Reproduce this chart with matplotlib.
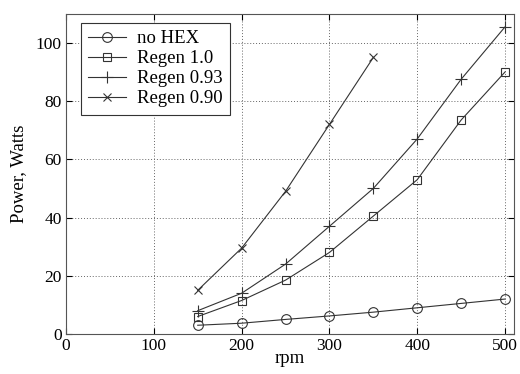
import numpy as np
import matplotlib
matplotlib.use('Agg')
import matplotlib.pyplot as plt

plt.rcParams['font.family'] = ['Liberation Serif', 'DejaVu Serif']

rpm = [150, 200, 250, 300, 350, 400, 450, 500]
rpm_090 = [150, 200, 250, 300, 350]
no_hex = [3.0, 3.7, 5.0, 6.2, 7.5, 9.0, 10.5, 12.0]
regen_10 = [6.0, 11.5, 18.5, 28.0, 40.5, 53.0, 73.5, 90.0]
regen_093 = [8.0, 14.0, 24.0, 37.0, 50.0, 67.0, 87.5, 105.5]
regen_090 = [15.0, 29.5, 49.0, 72.0, 95.0]

fig = plt.figure(figsize=(5.2, 3.74), dpi=100)
ax = fig.add_axes([0.127, 0.107, 0.861, 0.856])

lc = '#333333'
ax.plot(rpm, no_hex, color=lc, lw=0.8, marker='o', ms=7, mfc='none', mec=lc, mew=0.8, label='no HEX')
ax.plot(rpm, regen_10, color=lc, lw=0.8, marker='s', ms=6, mfc='none', mec=lc, mew=0.8, label='Regen 1.0')
ax.plot(rpm, regen_093, color=lc, lw=0.8, marker='+', ms=9, mec=lc, mew=0.8, label='Regen 0.93')
ax.plot(rpm_090, regen_090, color=lc, lw=0.8, marker='x', ms=6, mec=lc, mew=0.8, label='Regen 0.90')

ax.set_xlim(0, 510)
ax.set_ylim(0, 110)
ax.set_xticks([0, 100, 200, 300, 400, 500])
ax.set_yticks([0, 20, 40, 60, 80, 100])
ax.grid(True, linestyle=(0, (1, 2)), color='#666666', lw=0.7)
ax.tick_params(direction='in', top=True, right=True, labelsize=12.5, length=4, pad=3)
ax.set_xlabel('rpm', fontsize=13.5, labelpad=-3)
ax.set_ylabel('Power, Watts', fontsize=13.5, labelpad=6)
for s in ax.spines.values():
    s.set_linewidth(0.8)
    s.set_color('#555555')

leg = ax.legend(loc='upper left', bbox_to_anchor=(0.033, 0.972), fontsize=13.5,
                fancybox=False, framealpha=1, edgecolor='#333333',
                handlelength=2.0, borderpad=0.4, labelspacing=0.15,
                handletextpad=0.6, borderaxespad=0)
leg.get_frame().set_linewidth(0.8)

plt.savefig('out.png', dpi=100)
